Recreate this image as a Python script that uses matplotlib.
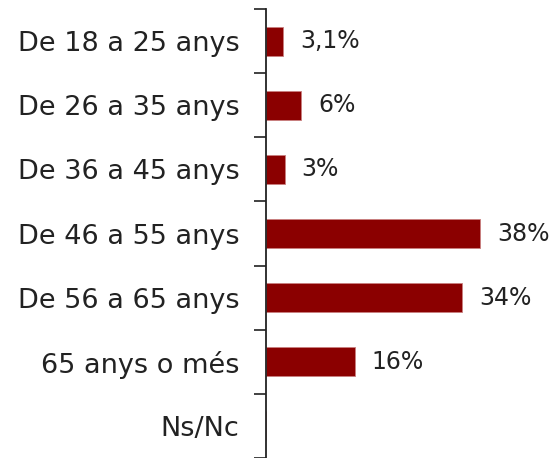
import matplotlib
matplotlib.use('Agg')
import matplotlib.pyplot as plt
import numpy as np

# grups d'edat i percentatges
categories = ['De 18 a 25 anys', 'De 26 a 35 anys', 'De 36 a 45 anys',
              'De 46 a 55 anys', 'De 56 a 65 anys', '65 anys o més', 'Ns/Nc']
values = [3.1, 6.3, 3.3, 38.0, 34.8, 15.8, 0.0]
value_labels = ['3,1%', '6%', '3%', '38%', '34%', '16%', '']

bar_color = '#8B0000'

fig = plt.figure(figsize=(5.51, 4.58), dpi=100)
ax = fig.add_axes([266/551, 0.0, 1 - 266/551, 449/458])

y = np.arange(len(categories))
ax.barh(y, values, height=0.45, color=bar_color, edgecolor='#c98080', linewidth=0.6)

for yi, v, lab in zip(y, values, value_labels):
    if lab:
        ax.text(v + 3.0, yi, lab, va='center', ha='left', fontsize=17, color='#222222')

ax.set_xlim(0, 50.6)
ax.set_ylim(len(categories) - 0.5, -0.5)

ax.set_yticks(y)
ax.set_yticklabels(categories, fontsize=19.5, color='#222222')
ax.tick_params(axis='y', which='major', length=0, pad=19)
ax.set_yticks(np.arange(len(categories) + 1) - 0.5, minor=True)
ax.tick_params(axis='y', which='minor', length=9, width=1.3, color='#333333')

ax.set_xticks([])
for s in ['top', 'right', 'bottom']:
    ax.spines[s].set_visible(False)
ax.spines['left'].set_color('#222222')
ax.spines['left'].set_linewidth(1.3)

fig.savefig('out.png', dpi=100)
